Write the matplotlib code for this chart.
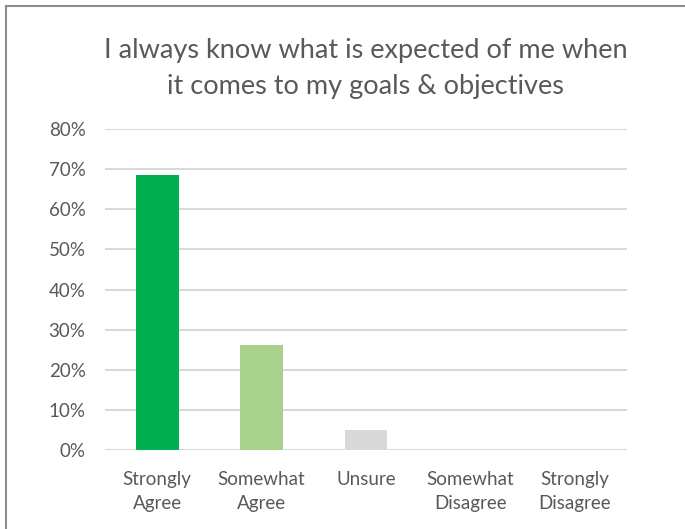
import numpy as np
import matplotlib.pyplot as plt
from matplotlib.lines import Line2D

# -----------------------------
# Survey responses
# -----------------------------

categories = ["Strongly\nAgree", "Somewhat\nAgree", "Unsure",
              "Somewhat\nDisagree", "Strongly\nDisagree"]
shares = [0.685, 0.262, 0.05, 0.0, 0.0]
bar_colors = ["#00b050", "#a9d18e", "#d9d9d9", "#d9d9d9", "#d9d9d9"]
y_ticks = [0, 0.1, 0.2, 0.3, 0.4, 0.5, 0.6, 0.7, 0.8]

title = "I always know what is expected of me when\nit comes to my goals & objectives"

text_gray = "#595959"
grid_gray = "#d9d9d9"

plt.rcParams["font.family"] = ["Lato", "DejaVu Sans"]

fig = plt.figure(figsize=(6.85, 5.29), dpi=100)
ax = fig.add_axes([0.1533, 0.1493, 0.762, 0.6068])

x = np.arange(len(categories))
ax.bar(x, shares, width=0.41, color=bar_colors, zorder=3)

ax.set_xlim(-0.5, len(categories) - 0.5)
ax.set_ylim(0, 0.8)
ax.set_yticks(y_ticks)
ax.set_yticklabels([f"{int(round(v * 100))}%" for v in y_ticks])
ax.set_xticks(x)
ax.set_xticklabels(categories, linespacing=1.5)

ax.grid(axis="y", color=grid_gray, linewidth=1.5, zorder=0)
for side in ["top", "right", "left", "bottom"]:
    ax.spines[side].set_visible(False)

ax.tick_params(axis="both", length=0, labelsize=13.5, colors=text_gray)
ax.tick_params(axis="y", pad=14)
ax.tick_params(axis="x", pad=15)

fig.text(0.534, 0.871, title, ha="center", va="center", fontsize=19.5,
         color=text_gray, linespacing=1.55)

# outer frame, only top and left edges
fig.add_artist(Line2D([6 / 685, 6 / 685], [0, 1 - 6 / 529],
                      transform=fig.transFigure, color="#8c8c8c", linewidth=1.5))
fig.add_artist(Line2D([6 / 685, 1], [1 - 6 / 529, 1 - 6 / 529],
                      transform=fig.transFigure, color="#8c8c8c", linewidth=1.5))

fig.savefig("out.png", dpi=100)
